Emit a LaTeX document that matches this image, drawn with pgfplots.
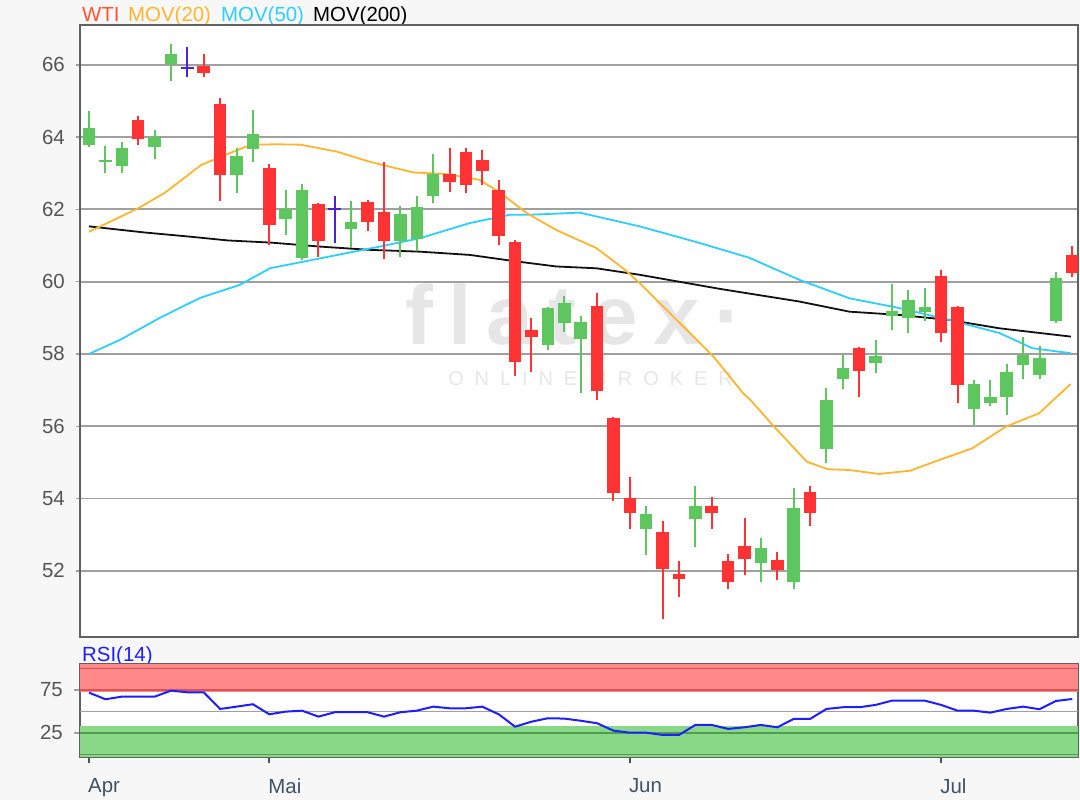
\documentclass[border=0pt]{standalone}
\usepackage{pgfplots}
\pgfplotsset{compat=1.18}
\usepackage{pgfplotstable}
\usepackage{fontspec}
\setmainfont{Liberation Sans}
\definecolor{bggray}{HTML}{F7F7F7}
\definecolor{framegray}{HTML}{606060}
\definecolor{gridgray}{HTML}{A0A0A0}
\definecolor{lblgray}{HTML}{555555}
\definecolor{xlbl}{HTML}{3E5366}
\definecolor{cgreen}{HTML}{5EC65E}
\definecolor{cred}{HTML}{FF3333}
\definecolor{cblue}{HTML}{4B22D6}
\definecolor{maA}{HTML}{FFB52E}
\definecolor{maB}{HTML}{2ECFFF}
\definecolor{maC}{HTML}{111111}
\definecolor{wticol}{HTML}{FF5533}
\definecolor{rsiblue}{HTML}{1E1EFF}
\definecolor{rsired}{HTML}{FF8888}
\definecolor{rsidred}{HTML}{D95555}
\definecolor{rsigreen}{HTML}{88D888}
\definecolor{rsidgreen}{HTML}{4E9E4E}
\definecolor{wmark}{HTML}{E6E6E6}

% green candles: index, open, high, low, close
\pgfplotstableread{
i o h l c
0 63.79 64.71 63.73 64.25
2 63.21 63.87 63.01 63.70
4 63.72 64.20 63.39 64.00
5 66.03 66.58 65.54 66.30
9 62.94 63.70 62.45 63.48
10 63.67 64.75 63.32 64.08
12 61.73 62.54 61.30 62.02
13 60.65 62.71 60.60 62.54
16 61.45 62.22 60.93 61.65
19 61.13 62.08 60.68 61.87
20 61.18 62.38 60.86 62.08
21 62.38 63.54 62.17 62.98
28 58.25 59.30 58.11 59.27
29 58.85 59.61 58.62 59.42
30 58.41 59.05 56.92 58.88
34 53.15 53.80 52.44 53.57
37 53.43 54.35 52.67 53.80
41 52.21 52.92 51.70 52.64
43 51.70 54.29 51.49 53.73
45 55.37 57.05 54.98 56.73
46 57.30 57.98 57.03 57.61
48 57.75 58.39 57.47 57.95
49 59.04 59.93 58.65 59.20
50 58.99 59.77 58.58 59.48
51 59.15 59.82 58.90 59.31
54 56.47 57.28 56.04 57.16
55 56.64 57.28 56.56 56.82
56 56.82 57.73 56.32 57.49
57 57.70 58.48 57.30 57.98
58 57.42 58.21 57.30 57.88
59 58.90 60.26 58.85 60.10
}\tabgreen

% red candles
\pgfplotstableread{
i o h l c
3 64.48 64.59 63.77 63.94
7 65.98 66.30 65.66 65.77
8 64.92 65.08 62.22 62.94
11 63.14 63.26 61.02 61.57
14 62.15 62.17 60.67 61.13
17 62.21 62.26 61.39 61.64
18 61.92 63.31 60.62 61.13
22 62.98 63.71 62.49 62.77
23 63.58 63.70 62.45 62.68
24 63.37 63.65 62.68 63.07
25 62.54 62.82 61.02 61.27
26 61.09 61.16 57.38 57.79
27 58.65 58.99 57.51 58.47
31 59.33 59.70 56.73 56.98
32 56.22 56.25 53.92 54.15
33 54.01 54.61 53.15 53.60
35 53.07 53.39 50.66 52.05
36 51.92 52.28 51.27 51.78
38 53.80 54.05 53.15 53.60
39 52.28 52.47 51.49 51.70
40 52.70 53.46 51.89 52.32
42 52.30 52.52 51.75 52.03
44 54.18 54.35 53.24 53.60
47 58.16 58.18 56.81 57.53
52 60.16 60.33 58.34 58.58
53 59.31 59.33 56.64 57.13
60 60.74 60.99 60.13 60.24
}\tabred

% doji candles
\pgfplotstableread{
i o h l c
1 63.35 63.76 63.01 63.35
}\tabdojig
\pgfplotstableread{
i o h l c
6 65.91 66.48 65.66 65.91
15 62.02 62.38 61.07 62.02
}\tabdojib

\pgfplotstableread{
i rsi
0 71.9
1 64.2
2 67.2
3 67.2
4 67.2
5 74.2
6 72.3
7 72.3
8 52.9
9 55.6
10 58.4
11 46.7
12 49.8
13 50.9
14 44.0
15 49.1
16 49.1
17 49.1
18 44.0
19 49.1
20 50.9
21 55.6
22 53.7
23 53.7
24 55.6
25 46.7
26 32.3
27 38.1
28 42.1
29 41.7
30 39.2
31 36.3
32 27.7
33 25.3
34 25.3
35 22.7
36 22.7
37 34.3
38 34.3
39 29.7
40 31.6
41 34.3
42 31.6
43 41.3
44 41.3
45 52.9
46 54.9
47 54.9
48 57.6
49 62.6
50 62.6
51 62.6
52 57.6
53 50.9
54 50.9
55 48.6
56 52.9
57 55.6
58 52.6
59 62.2
60 64.5
}\tabrsi

\newcommand{\lblfont}{\fontsize{20.5}{24}\selectfont}
\pgfplotsset{candle/.style={draw=none, no markers, forget plot}}

\begin{document}
\begin{tikzpicture}
\fill[bggray] (0,0) rectangle (1080bp,-800bp);

% legend line
\node[anchor=base west, inner sep=0pt, text=wticol, font=\lblfont] at (82bp,-21.5bp) {WTI};
\node[anchor=base west, inner sep=0pt, text=maA, font=\lblfont] at (128bp,-21.5bp) {MOV(20)};
\node[anchor=base west, inner sep=0pt, text=maB, font=\lblfont] at (221bp,-21.5bp) {MOV(50)};
\node[anchor=base west, inner sep=0pt, text=black, font=\lblfont] at (313bp,-21.5bp) {MOV(200)};
\node[anchor=base west, inner sep=0pt, text=rsiblue, font=\lblfont] at (82bp,-661.5bp) {RSI(14)};

\begin{axis}[
  at={(80bp,-25bp)}, anchor=north west, scale only axis,
  width=998bp, height=612bp,
  xmin=-0.55, xmax=60.35, ymin=50.17, ymax=67.1,
  axis background/.style={fill=white},
  axis line style={draw=framegray, line width=2bp},
  xtick=\empty,
  ytick={52,54,56,58,60,62,64,66},
  ytick pos=left, tick align=outside,
  major tick length=4bp,
  tick style={draw=gridgray, line width=1.5bp},
  ymajorgrids=true,
  major grid style={draw=gridgray, line width=1.8bp},
  /pgf/number format/assume math mode=true,
  yticklabel style={font=\lblfont, text=lblgray, inner sep=0pt, xshift=-11bp},
]
\node[text=wmark, font=\fontsize{84}{90}\selectfont\bfseries\addfontfeatures{LetterSpace=18}, anchor=base] at (axis cs:29.6,58.25) {flatex·};
\node[text=wmark, font=\fontsize{20}{24}\selectfont\addfontfeatures{LetterSpace=55}, anchor=center] at (axis cs:30.6,57.33) {ONLINE BROKER};

% moving averages
\addplot[maC, line width=1.8bp, forget plot] coordinates {
(0,61.53) (3.4,61.36) (6.04,61.25) (8.48,61.14) (11.12,61.08) (14.09,60.97) (17.13,60.88) (20.18,60.83) (23.23,60.74) (26.08,60.56) (28.52,60.42) (30.96,60.37) (33.6,60.19) (38.5,59.80) (43.35,59.45) (46.4,59.17) (49.45,59.08) (52.5,58.94) (55.55,58.71) (59.92,58.48)};
\addplot[maB, line width=1.8bp, forget plot] coordinates {
(0,58.00) (1.89,58.39) (4.33,59.00) (6.77,59.55) (9.2,59.91) (11.04,60.37) (17.74,60.97) (20.18,61.20) (23.23,61.62) (25.67,61.85) (26.9,61.85) (29.94,61.91) (33.6,61.53) (37.26,61.07) (40.3,60.66) (43.35,60.05) (46.4,59.54) (49.45,59.27) (52.5,58.94) (55.55,58.58) (57.56,58.16) (59.9,58.02)};
\addplot[maA, line width=1.8bp, forget plot] coordinates {
(0,61.38) (3.0,62.03) (4.6,62.45) (6.85,63.23) (8.5,63.54) (9.9,63.79) (11.5,63.80) (12.9,63.79) (15.1,63.60) (17.1,63.32) (19.8,63.02) (21.8,62.98) (23.8,62.82) (25.0,62.49) (26.7,61.90) (28.5,61.43) (30.96,60.93) (32.7,60.33) (33.6,59.96) (38.1,57.93) (39.9,56.92) (40.4,56.71) (41.8,55.99) (43.8,55.02) (45.1,54.81) (46.4,54.79) (48.2,54.68) (50.1,54.77) (51.9,55.07) (53.9,55.39) (55.95,55.99) (57.98,56.36) (59.9,57.17)};

% wicks
\addplot[candle, error bars/.cd, y dir=both, y explicit, error mark=none, error bar style={line width=2bp, draw=cgreen}]
  table[x=i, y expr={(\thisrow{h}+\thisrow{l})/2}, y error expr={(\thisrow{h}-\thisrow{l})/2}] {\tabgreen};
\addplot[candle, error bars/.cd, y dir=both, y explicit, error mark=none, error bar style={line width=2bp, draw=cred}]
  table[x=i, y expr={(\thisrow{h}+\thisrow{l})/2}, y error expr={(\thisrow{h}-\thisrow{l})/2}] {\tabred};
\addplot[candle, error bars/.cd, y dir=both, y explicit, error mark=none, error bar style={line width=2bp, draw=cgreen}]
  table[x=i, y expr={(\thisrow{h}+\thisrow{l})/2}, y error expr={(\thisrow{h}-\thisrow{l})/2}] {\tabdojig};
\addplot[candle, error bars/.cd, y dir=both, y explicit, error mark=none, error bar style={line width=2bp, draw=cblue}]
  table[x=i, y expr={(\thisrow{h}+\thisrow{l})/2}, y error expr={(\thisrow{h}-\thisrow{l})/2}] {\tabdojib};

% bodies
\addplot[candle, error bars/.cd, y dir=both, y explicit, error mark=none, error bar style={line width=12.5bp, draw=cgreen}]
  table[x=i, y expr={(\thisrow{o}+\thisrow{c})/2}, y error expr={abs(\thisrow{c}-\thisrow{o})/2}] {\tabgreen};
\addplot[candle, error bars/.cd, y dir=both, y explicit, error mark=none, error bar style={line width=12.5bp, draw=cred}]
  table[x=i, y expr={(\thisrow{o}+\thisrow{c})/2}, y error expr={abs(\thisrow{c}-\thisrow{o})/2}] {\tabred};
\addplot[candle, error bars/.cd, x dir=both, x fixed=0.40, error mark=none, error bar style={line width=2bp, draw=cgreen}]
  table[x=i, y=c] {\tabdojig};
\addplot[candle, error bars/.cd, x dir=both, x fixed=0.40, error mark=none, error bar style={line width=2bp, draw=cblue}]
  table[x=i, y=c] {\tabdojib};
\end{axis}

\begin{axis}[
  at={(80bp,-664bp)}, anchor=north west, scale only axis,
  width=998bp, height=93bp,
  xmin=-0.55, xmax=60.35, ymin=-3, ymax=105.2,
  axis background/.style={fill=white},
  axis line style={draw=framegray, line width=2bp},
  xtick={0,11,33,52}, xticklabels={Apr,Mai,Jun,Jul},
  ytick={25,75},
  xtick pos=bottom, ytick pos=left, tick align=outside,
  major tick length=6bp,
  x tick style={draw=xlbl, line width=2bp},
  y tick style={draw=gridgray, line width=1.5bp},
  /pgf/number format/assume math mode=true,
  yticklabel style={font=\lblfont, text=lblgray, inner sep=0pt, xshift=-11bp},
  xticklabel style={font=\lblfont, text=xlbl, inner sep=0pt, anchor=north west, xshift=-1bp, yshift=-15bp},
]
\fill[rsired] (axis cs:-0.55,72.7) rectangle (axis cs:60.35,105.2);
\fill[rsigreen] (axis cs:-0.55,-3) rectangle (axis cs:60.35,33);
\draw[rsidred, line width=1.6bp] (axis cs:-0.55,100) -- (axis cs:60.35,100);
\draw[rsidred, line width=1.6bp] (axis cs:-0.55,75) -- (axis cs:60.35,75);
\draw[rsidgreen, line width=1.6bp] (axis cs:-0.55,25) -- (axis cs:60.35,25);
\draw[rsidgreen, line width=1.6bp] (axis cs:-0.55,0) -- (axis cs:60.35,0);
\draw[gridgray, line width=1.6bp] (axis cs:-0.55,50) -- (axis cs:60.35,50);
\addplot[rsiblue, line width=2bp, forget plot] table[x=i, y=rsi] {\tabrsi};
\end{axis}

\pgfresetboundingbox
\path[use as bounding box] (0,0) rectangle (1080bp,-800bp);
\end{tikzpicture}
\end{document}
